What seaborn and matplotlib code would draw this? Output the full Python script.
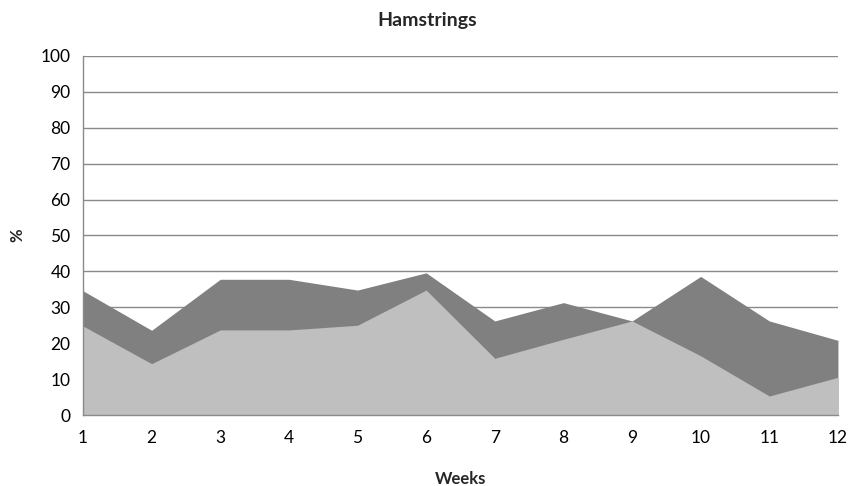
import matplotlib
matplotlib.use("Agg")
import matplotlib.pyplot as plt
import seaborn as sns
import pandas as pd

weeks = [1, 2, 3, 4, 5, 6, 7, 8, 9, 10, 11, 12]
upper_series = [34.6, 23.6, 37.8, 37.8, 34.8, 39.6, 26.2, 31.3, 26.2, 38.6, 26.2, 20.8]
lower_series = [24.8, 14.3, 23.7, 23.7, 25.0, 34.8, 15.8, 21.1, 26.2, 16.5, 5.3, 10.5]
y_ticks = [0, 10, 20, 30, 40, 50, 60, 70, 80, 90, 100]

df = pd.DataFrame({"week": weeks, "upper": upper_series, "lower": lower_series})

sns.set_theme(style="white")
plt.rcParams["font.family"] = ["Lato", "DejaVu Sans"]

fig = plt.figure(figsize=(8.54, 4.86), dpi=100)
ax = fig.add_axes([0.0972, 0.146, 0.884, 0.739])

# invisible line plots set up the axes through seaborn, areas filled beneath them
sns.lineplot(data=df, x="week", y="upper", ax=ax, color="#808080", linewidth=0)
sns.lineplot(data=df, x="week", y="lower", ax=ax, color="#BFBFBF", linewidth=0)
ax.fill_between(df["week"], 0, df["upper"], color="#808080", linewidth=0, zorder=2)
ax.fill_between(df["week"], 0, df["lower"], color="#BFBFBF", linewidth=0, zorder=3)

ax.set_xlim(1, 12)
ax.set_ylim(0, 100)
ax.set_xticks(weeks)
ax.set_yticks(y_ticks)
ax.tick_params(axis="both", length=0, labelsize=12.5, colors="black")
ax.tick_params(axis="x", pad=11)
ax.tick_params(axis="y", pad=9)

ax.yaxis.grid(True, color="#8a8a8a", linewidth=1.0, zorder=1)
ax.set_axisbelow(True)
for side in ["top", "right"]:
    ax.spines[side].set_visible(False)
for side in ["left", "bottom"]:
    ax.spines[side].set_color("#8a8a8a")
    ax.spines[side].set_linewidth(1.0)
    ax.spines[side].set_zorder(4)

ax.set_xlabel("Weeks", fontsize=12, fontweight="bold", labelpad=18)
ax.set_ylabel("%", fontsize=12, fontweight="bold", labelpad=11)
fig.suptitle("Hamstrings", fontsize=14, fontweight="bold", y=0.975)

fig.savefig("out.png", dpi=100)
